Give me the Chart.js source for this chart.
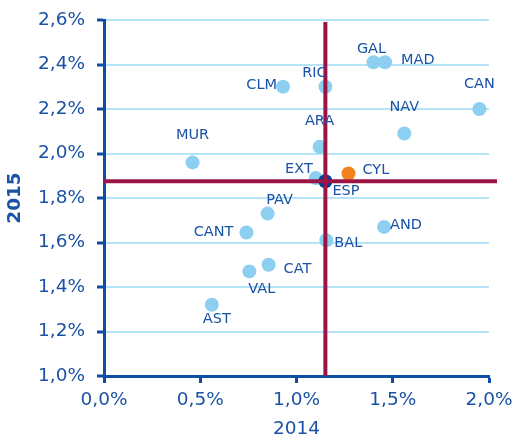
<!DOCTYPE html>
<html>
<head>
<meta charset="utf-8">
<script src="https://cdn.jsdelivr.net/npm/chart.js@4/dist/chart.umd.min.js"></script>
<style>
html,body{margin:0;padding:0;background:#fff;}
#wrap{width:514px;height:441px;position:relative;}
</style>
</head>
<body>
<div id="wrap"><canvas id="c" width="514" height="441"></canvas></div>
<script>
// ---- data ----
const regions = ["MUR","CLM","RIC","GAL","MAD","CAN","NAV","ARA","EXT","PAV","CANT","VAL","AST","CAT","BAL","AND"];
const growth2014 = [0.46,0.93,1.15,1.40,1.46,1.95,1.56,1.12,1.10,0.85,0.74,0.755,0.56,0.855,1.155,1.455];
const growth2015 = [1.96,2.30,2.30,2.41,2.41,2.20,2.09,2.03,1.89,1.73,1.645,1.47,1.32,1.50,1.61,1.67];
const cylName = ["CYL"]; const cyl2014 = [1.27]; const cyl2015 = [1.91];
const espName = ["ESP"]; const esp2014 = [1.15]; const esp2015 = [1.875];
const xTicks = [0, 0.5, 1.0, 1.5, 2.0];
const yTicks = [1.0, 1.2, 1.4, 1.6, 1.8, 2.0, 2.2, 2.4, 2.6];
const xTitle = "2014"; const yTitle = "2015";

// ---- styling / label placement ----
const TXT = '#1a52a5', AXIS = '#0d4ea6', GRID = '#b5e3f7';
const LIGHT = '#8dcff0', ORANGE = '#f58220', DARK = '#0a3d91', CROSS = '#9a1446';
const FONT = 'DejaVu Sans';
const place = {
  MUR:[0,-27,'center'], CLM:[-6,-2,'right'], RIC:[-11,-14,'center'], GAL:[-2,-13,'center'],
  MAD:[16,-2,'left'], CAN:[0,-25,'center'], NAV:[0,-26,'center'], ARA:[0,-26,'center'],
  EXT:[-3,-9,'right'], CYL:[14,-3,'left'], ESP:[7,10,'left'], PAV:[12,-13,'center'],
  CANT:[-13,0,'right'], VAL:[-1,18,'left'], AST:[5,14,'center'], CAT:[15,4,'left'],
  BAL:[8,3,'left'], AND:[6,-2,'left']
};

const pts = (xs, ys) => xs.map((x,i)=>({x:x, y:ys[i]}));
const fmt = v => v.toFixed(1).replace('.', ',') + '%';

const overlay = {
  id:'overlay',
  afterDatasetsDraw(chart){
    const {ctx, chartArea:a, scales:{x,y}} = chart;
    const ex = x.getPixelForValue(esp2014[0]), ey = y.getPixelForValue(esp2015[0]);
    ctx.save();
    ctx.strokeStyle = CROSS; ctx.lineWidth = 4; ctx.lineCap='butt';
    ctx.beginPath(); ctx.moveTo(ex, a.top+2); ctx.lineTo(ex, a.bottom); ctx.stroke();
    ctx.beginPath(); ctx.moveTo(a.left, ey); ctx.lineTo(a.right+8, ey); ctx.stroke();
    ctx.fillStyle = TXT; ctx.font = '14.5px "' + FONT + '"'; ctx.textBaseline = 'middle';
    const draw = (names, xs, ys) => names.forEach((n,i)=>{
      const p = place[n] || [0,-14,'center'];
      ctx.textAlign = p[2];
      ctx.fillText(n, x.getPixelForValue(xs[i]) + p[0], y.getPixelForValue(ys[i]) + p[1]);
    });
    draw(regions, growth2014, growth2015);
    draw(cylName, cyl2014, cyl2015);
    draw(espName, esp2014, esp2015);
    ctx.restore();
  }
};

new Chart(document.getElementById('c'), {
  type:'scatter',
  data:{ datasets:[
    {label:'ESP', data:pts(esp2014, esp2015), backgroundColor:DARK, pointRadius:7, pointHoverRadius:7, borderWidth:0, order:1},
    {label:'CYL', data:pts(cyl2014, cyl2015), backgroundColor:ORANGE, pointRadius:7, pointHoverRadius:7, borderWidth:0, order:2},
    {label:'CCAA', data:pts(growth2014, growth2015), backgroundColor:LIGHT, pointRadius:7, pointHoverRadius:7, borderWidth:0, order:3}
  ]},
  options:{
    responsive:false, animation:false, devicePixelRatio:1,
    layout:{padding:{top:20, right:25, left:0, bottom:0}},
    plugins:{legend:{display:false}, tooltip:{enabled:false}},
    scales:{
      x:{
        type:'linear', min:0, max:2,
        afterBuildTicks: s => { s.ticks = xTicks.map(v=>({value:v})); },
        afterFit: s => { s.height = 65; s.paddingLeft = 0; s.paddingRight = 0; },
        border:{display:true, color:AXIS, width:3},
        grid:{drawOnChartArea:false, drawTicks:true, tickLength:7, tickColor:AXIS, tickWidth:3},
        ticks:{color:TXT, font:{family:FONT, size:18.5}, padding:6, callback:v=>fmt(v), maxRotation:0},
        title:{display:true, text:xTitle, color:TXT, font:{family:FONT, size:18.5}, padding:{top:0,bottom:1}}
      },
      y:{
        type:'linear', min:1, max:2.6,
        afterBuildTicks: s => { s.ticks = yTicks.map(v=>({value:v})); },
        afterFit: s => { s.width = 104; s.paddingTop = 0; s.paddingBottom = 0; },
        border:{display:true, color:AXIS, width:3},
        grid:{color:GRID, lineWidth:2, drawTicks:true, tickLength:7, tickColor:AXIS, tickWidth:3},
        ticks:{color:TXT, font:{family:FONT, size:18.5}, padding:12, callback:v=>fmt(v)},
        title:{display:true, text:yTitle, color:TXT, font:{family:FONT, size:18.5, weight:'bold'}, padding:{top:4,bottom:0}}
      }
    }
  },
  plugins:[overlay]
});
</script>
</body>
</html>
